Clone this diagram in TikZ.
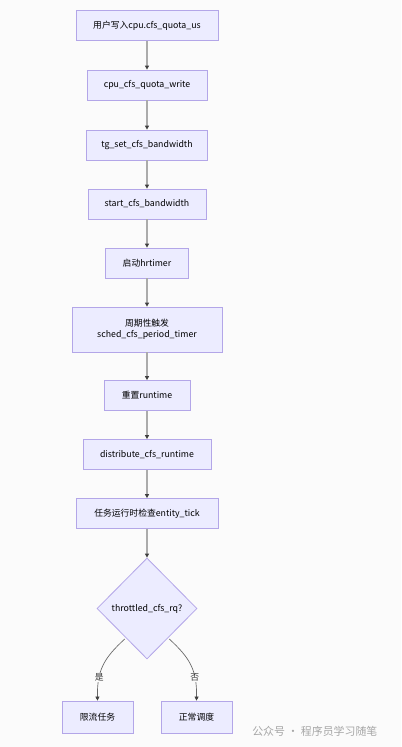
\documentclass[tikz,border=0pt]{standalone}
\usepackage{fontspec}
\setmainfont{Noto Sans CJK SC}
\usetikzlibrary{shapes.geometric,arrows.meta}
\definecolor{nodefill}{HTML}{ECECFF}
\definecolor{nodeline}{HTML}{B3A6E8}
\definecolor{edgeline}{HTML}{ABABAB}
\definecolor{pagebg}{HTML}{FBFBFB}
\tikzset{
  box/.style={draw=nodeline, fill=nodefill, line width=0.6pt, minimum height=22.5pt,
    inner sep=1pt, font=\fontsize{6.6}{8.5}\selectfont, align=center},
  flow/.style={draw=edgeline, line width=1.1pt, -{Triangle[length=3pt,width=3pt,color=black!75]}},
  branch/.style={draw=black!60, line width=0.5pt, -{Triangle[length=3pt,width=3pt,color=black!75]}},
  tag/.style={fill=pagebg, inner sep=0.5pt, font=\fontsize{6.6}{8}\selectfont, text=black!80}
}
\begin{document}
\begin{tikzpicture}[x=0.75pt,y=-0.75pt]
  \fill[pagebg] (0,0) rectangle (401,747);
  \useasboundingbox (0,0) rectangle (401,747);
  % main chain
  \node[box, minimum width=106.5pt] (write) at (147,25.5) {用户写入cpu.cfs\_quota\_us};
  \node[box, minimum width=90pt] (quota) at (147,85) {cpu\_cfs\_quota\_write};
  \node[box, minimum width=90.75pt] (tgset) at (147,145) {tg\_set\_cfs\_bandwidth};
  \node[box, minimum width=88.5pt] (start) at (147,204) {start\_cfs\_bandwidth};
  \node[box, minimum width=62.25pt] (hrtimer) at (147,263) {启动hrtimer};
  \node[box, minimum width=112.5pt, minimum height=33.75pt] (period) at (147,329.5) {周期性触发\\sched\_cfs\_period\_timer};
  \node[box, minimum width=64.5pt] (reset) at (147,395.5) {重置runtime};
  \node[box, minimum width=96pt] (distrib) at (147,454.5) {distribute\_cfs\_runtime};
  \node[box, minimum width=106.5pt] (tick) at (147,513.5) {任务运行时检查entity\_tick};
  % decision
  \node[box, shape=diamond, aspect=1, minimum width=75pt, minimum height=75.75pt] (check) at (147,608.5) {throttled\_cfs\_rq?};
  \node[box, minimum width=53.25pt, minimum height=24pt] (limit) at (97.5,717) {限流任务};
  \node[box, minimum width=53.25pt, minimum height=24pt] (normal) at (196.5,717) {正常调度};
  \draw[flow] (write) -- (quota);
  \draw[flow] (quota) -- (tgset);
  \draw[flow] (tgset) -- (start);
  \draw[flow] (start) -- (hrtimer);
  \draw[flow] (hrtimer) -- (period);
  \draw[flow] (period) -- (reset);
  \draw[flow] (reset) -- (distrib);
  \draw[flow] (distrib) -- (tick);
  \draw[flow] (tick) -- (check);
  \draw[branch] (check.south west) ++(3,5) .. controls (104,658) and (97,670) .. (limit.north) node[tag, pos=0.7] {是};
  \draw[branch] (check.south east) ++(-3,5) .. controls (190,658) and (197,670) .. (normal.north) node[tag, pos=0.7] {否};
  % watermark
  \node[anchor=west, text=black!35, font=\fontsize{8.2}{10}\selectfont, inner sep=0pt] (mark) at (252,731) {公众号 · 程序员学习随笔};
\end{tikzpicture}
\end{document}
